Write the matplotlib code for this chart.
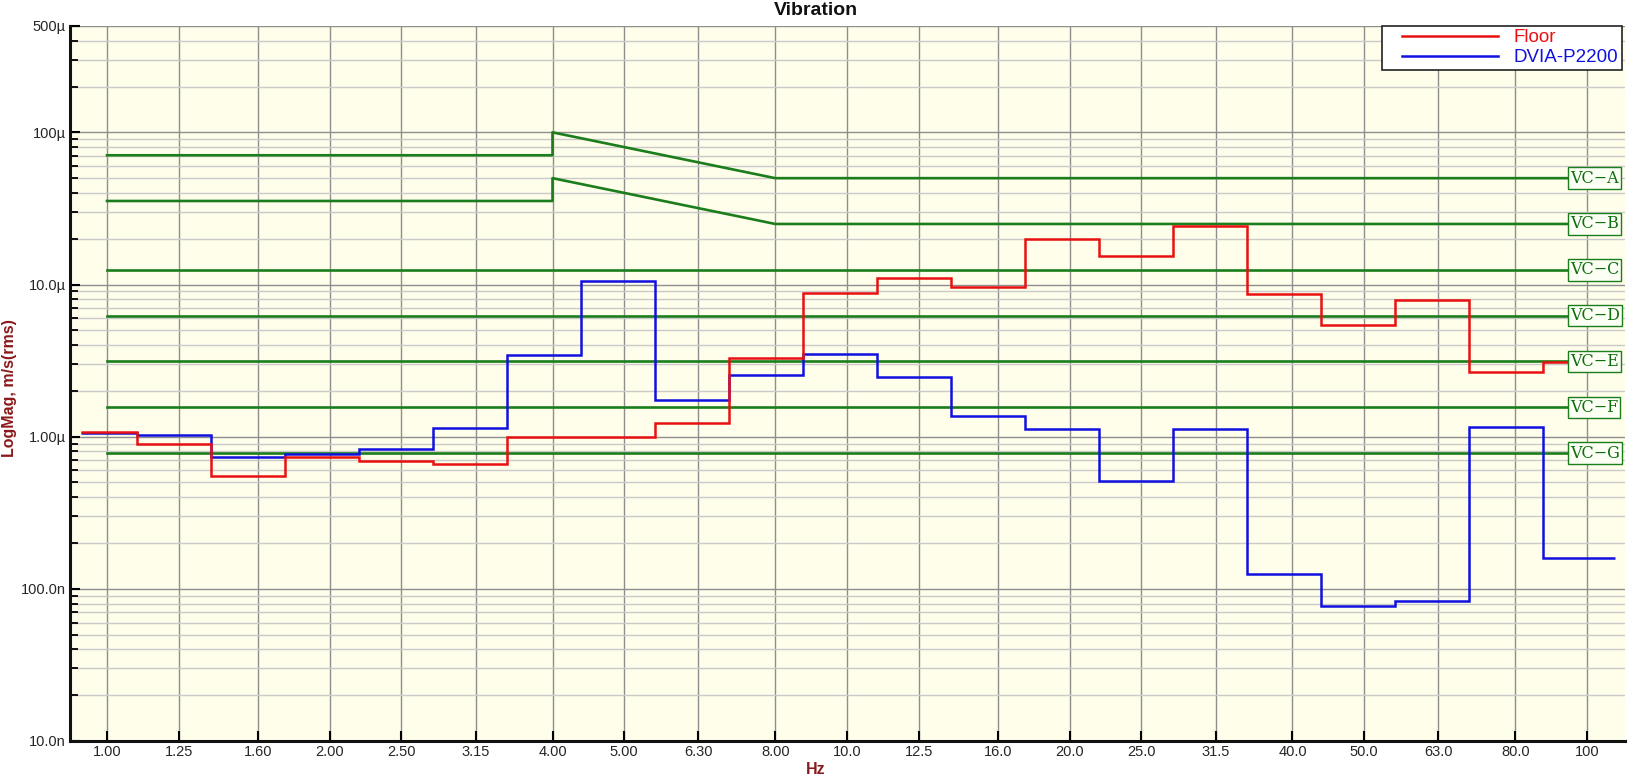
import numpy as np
import matplotlib
matplotlib.use("Agg")
import matplotlib.pyplot as plt
from matplotlib.lines import Line2D
from matplotlib.legend_handler import HandlerLine2D
from matplotlib.ticker import FixedLocator, NullLocator, LogLocator, NullFormatter

plt.rcParams['font.family'] = ['Liberation Sans', 'DejaVu Sans']

# 1/3 octave bands, Hz
band_hz = [1.0, 1.25, 1.6, 2.0, 2.5, 3.15, 4.0, 5.0, 6.3, 8.0, 10.0,
           12.5, 16.0, 20.0, 25.0, 31.5, 40.0, 50.0, 63.0, 80.0, 100.0]
band_labels = ['1.00', '1.25', '1.60', '2.00', '2.50', '3.15', '4.00', '5.00',
               '6.30', '8.00', '10.0', '12.5', '16.0', '20.0', '25.0', '31.5',
               '40.0', '50.0', '63.0', '80.0', '100']

# velocity, um/s rms
floor_um = [1.08, 0.90, 0.553, 0.73, 0.69, 0.664, 0.99, 1.00, 1.23, 3.29, 8.73,
            11.1, 9.6, 19.8, 15.4, 24.4, 8.6, 5.45, 7.88, 2.65, 3.08]
dvia_um = [1.06, 1.03, 0.738, 0.765, 0.83, 1.14, 3.43, 10.5, 1.75, 2.56, 3.52,
           2.47, 1.37, 1.13, 0.508, 1.12, 0.1256, 0.0776, 0.0834, 1.16, 0.159]

# VC criteria, um/s
vc_names = ['VC\u2212A', 'VC\u2212B', 'VC\u2212C', 'VC\u2212D', 'VC\u2212E', 'VC\u2212F', 'VC\u2212G']
vc_flat = [50, 25, 12.5, 6.25, 3.12, 1.56, 0.78]
vc_ab_hz = [1.0, 4.0, 4.0, 8.0, 100.0]
vc_a = [70.7, 70.7, 100, 50, 50]
vc_b = [35.4, 35.4, 50, 25, 25]

ytick_vals = [1e-8, 1e-7, 1e-6, 1e-5, 1e-4, 5e-4]
ytick_labels = ['10.0n', '100.0n', '1.00\u00b5', '10.0\u00b5', '100\u00b5', '500\u00b5']

W, H = 1631, 779
fig = plt.figure(figsize=(W / 100, H / 100), dpi=100)
ax = fig.add_axes([70 / W, 1 - 741 / H, (1625 - 70) / W, (741 - 26) / H])
ax.set_facecolor('#FEFEEB')

ax.set_xscale('log')
ax.set_yscale('log')
ax.set_xlim(10 ** -0.05, 10 ** 2.0514)
ax.set_ylim(1e-8, 5e-4)

# step edges between bands
edges = np.concatenate([[0.923], 10 ** (np.arange(20) / 10 + 0.04), [109.0]])

green = '#1B7D1B'
ax.plot(vc_ab_hz, np.array(vc_a) * 1e-6, color=green, lw=1.9, zorder=3)
ax.plot(vc_ab_hz, np.array(vc_b) * 1e-6, color=green, lw=1.9, zorder=3)
for lvl in vc_flat[2:]:
    ax.plot([1.0, 100.0], [lvl * 1e-6, lvl * 1e-6], color=green, lw=1.9, zorder=3)

ax.stairs(np.array(dvia_um) * 1e-6, edges, baseline=None, color='#1010E0', lw=1.8, zorder=4)
ax.stairs(np.array(floor_um) * 1e-6, edges, baseline=None, color='#E81010', lw=1.8, zorder=5)

for name, lvl in zip(vc_names, vc_flat):
    ax.text(94.8, lvl * 1e-6, name, ha='left', va='center', fontsize=11.5,
            family='DejaVu Serif', color='#0E6E0E', zorder=6,
            bbox=dict(boxstyle='square,pad=0.14', fc='#FBFFF4', ec=green, lw=1.0))

# axes and grid
ax.xaxis.set_major_locator(FixedLocator(band_hz))
ax.set_xticklabels(band_labels)
ax.xaxis.set_minor_locator(NullLocator())
ax.yaxis.set_major_locator(FixedLocator(ytick_vals))
ax.set_yticklabels(ytick_labels)
ax.yaxis.set_minor_locator(LogLocator(base=10, subs=np.arange(2, 10)))
ax.yaxis.set_minor_formatter(NullFormatter())

ax.grid(True, which='major', axis='x', color='#8E8E8E', lw=1.0)
ax.grid(True, which='major', axis='y', color='#8E8E8E', lw=1.0)
ax.grid(True, which='minor', axis='y', color='#CACACA', lw=1.0)
ax.set_axisbelow(True)

for s in ['top', 'right']:
    ax.spines[s].set_visible(False)
for s in ['left', 'bottom']:
    ax.spines[s].set_linewidth(2.2)
    ax.spines[s].set_color('#111111')

ax.tick_params(axis='both', which='major', direction='in', length=7, width=1.5,
               labelsize=10.5, labelcolor='#262626', pad=3)
ax.tick_params(axis='y', which='minor', direction='in', length=6, width=1.3)

handles = [Line2D([], [], color='#E81010', lw=1.8),
           Line2D([], [], color='#1010E0', lw=1.8)]
leg = ax.legend(handles, ['Floor', 'DVIA-P2200'], loc='upper right',
                bbox_to_anchor=(0.998, 1.0), borderaxespad=0, fontsize=13.5,
                fancybox=False, framealpha=1, edgecolor='#222222',
                handlelength=6.0, handletextpad=0.85, labelspacing=0.15,
                borderpad=0.18, labelcolor='linecolor',
                handler_map={Line2D: HandlerLine2D(xpad=0.9)})
leg.get_frame().set_linewidth(1.2)
leg.set_zorder(10)

fig.text(0.5, 1 - 15 / H, 'Vibration', ha='center', va='baseline',
         fontsize=14, fontweight='bold', color='#111111')
fig.text(0.5, 1 - 770 / H, 'Hz', ha='center', va='center',
         fontsize=11.5, fontweight='bold', color='#8B1A1A')
fig.text(10 / W, 1 - 388 / H, 'LogMag, m/s(rms)', ha='center', va='center',
         rotation=90, fontsize=11.5, fontweight='bold', color='#8B1A1A')

fig.savefig('out.png', dpi=100)
